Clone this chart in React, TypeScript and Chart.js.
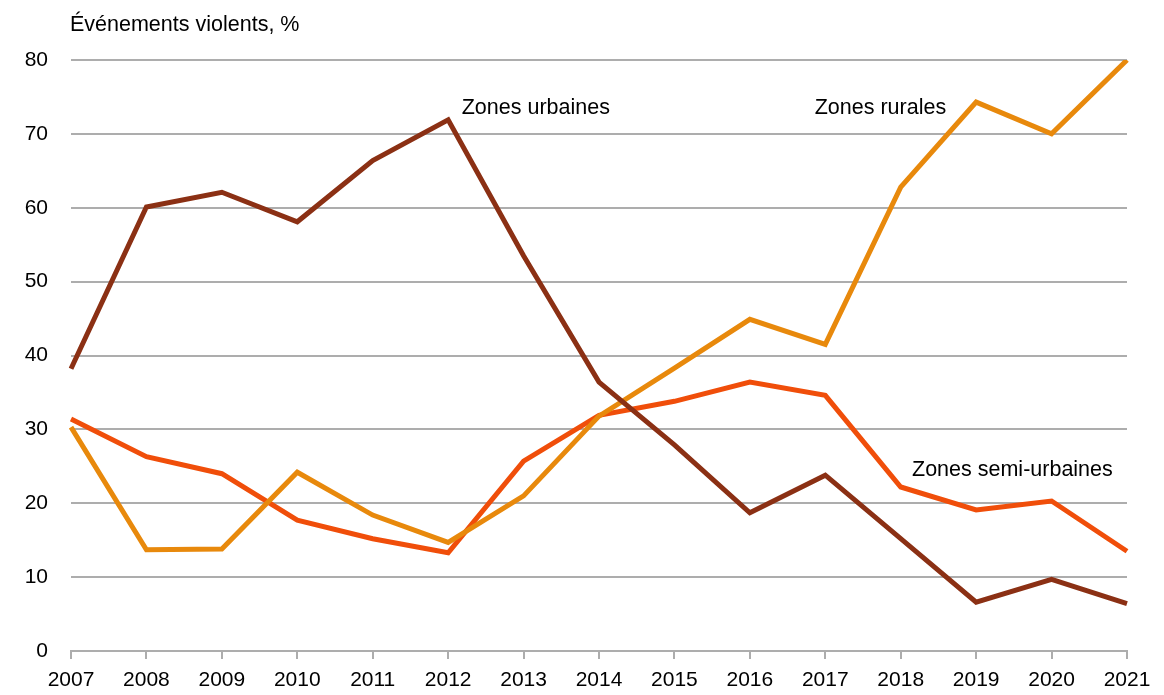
import React, { useEffect, useRef } from "react";
import { Chart, registerables } from "chart.js";

Chart.register(...registerables);

const years = ["2007","2008","2009","2010","2011","2012","2013","2014","2015","2016","2017","2018","2019","2020","2021"];
const urbaines = [38.2, 60.1, 62.1, 58.1, 66.4, 71.9, 53.5, 36.4, 27.9, 18.7, 23.8, 15.2, 6.6, 9.7, 6.4];
const rurales = [30.3, 13.7, 13.8, 24.2, 18.4, 14.7, 21.0, 31.8, 38.3, 44.9, 41.5, 62.8, 74.3, 70.0, 80.0];
const semiUrbaines = [31.4, 26.3, 24.0, 17.7, 15.2, 13.3, 25.7, 31.9, 33.8, 36.4, 34.6, 22.2, 19.1, 20.3, 13.5];
const yTicks = [0, 10, 20, 30, 40, 50, 60, 70, 80];
const axisTitle = "Événements violents, %";
const seriesLabels = [
  { text: "Zones urbaines", x: 5.18, y: 73.5 },
  { text: "Zones rurales", x: 9.86, y: 73.5 },
  { text: "Zones semi-urbaines", x: 11.15, y: 24.5 },
];

const FONT = "'Liberation Sans', Arial, sans-serif";

export default function App() {
  const ref = useRef<HTMLCanvasElement | null>(null);
  useEffect(() => {
    if (!ref.current) return;
    const textPlugin = {
      id: "texts",
      afterDraw(chart: any) {
        const ctx = chart.ctx;
        const xs = chart.scales.x;
        const ys = chart.scales.y;
        ctx.save();
        ctx.fillStyle = "#000";
        ctx.font = `21.5px ${FONT}`;
        ctx.textBaseline = "middle";
        ctx.textAlign = "left";
        ctx.fillText(axisTitle, chart.chartArea.left - 1, 25);
        for (const l of seriesLabels) {
          const px = xs.left + (xs.right - xs.left) * (l.x / (years.length - 1));
          ctx.fillText(l.text, px, ys.getPixelForValue(l.y));
        }
        ctx.restore();
      },
    };
    const chart = new Chart(ref.current, {
      type: "line",
      data: {
        labels: years,
        datasets: [
          { label: "Zones urbaines", data: urbaines, borderColor: "#8B3014", borderWidth: 5, pointRadius: 0, tension: 0 },
          { label: "Zones rurales", data: rurales, borderColor: "#E8890C", borderWidth: 5, pointRadius: 0, tension: 0 },
          { label: "Zones semi-urbaines", data: semiUrbaines, borderColor: "#F04E0A", borderWidth: 5, pointRadius: 0, tension: 0 },
        ],
      },
      options: {
        animation: false,
        responsive: false,
        maintainAspectRatio: false,
        layout: { padding: { top: 60, right: 37, left: 0, bottom: 0 } },
        plugins: { legend: { display: false }, tooltip: { enabled: false } },
        scales: {
          x: {
            offset: false,
            grid: { display: true, drawOnChartArea: false, drawTicks: true, tickLength: 8, color: "#ADADAD", lineWidth: 2 },
            border: { display: true, color: "#ADADAD", width: 2 },
            ticks: { color: "#000", font: { family: FONT, size: 21 }, padding: 9, maxRotation: 0, autoSkip: false },
            afterFit(scale: any) { scale.height = 44; },
          },
          y: {
            min: 0,
            max: 80,
            afterBuildTicks(scale: any) { scale.ticks = yTicks.map((v) => ({ value: v })); },
            grid: { color: "#ADADAD", lineWidth: 2, drawTicks: false },
            border: { display: false },
            ticks: { color: "#000", font: { family: FONT, size: 21 }, padding: 23 },
            afterFit(scale: any) { scale.width = 71; },
          },
        },
      },
      plugins: [textPlugin],
    });
    return () => chart.destroy();
  }, []);
  return (
    <div style={{ position: "fixed", left: 0, top: 0, width: 1164, height: 695, background: "#fff" }}>
      <canvas ref={ref} width={1164} height={695} style={{ width: 1164, height: 695, display: "block" }} />
    </div>
  );
}
